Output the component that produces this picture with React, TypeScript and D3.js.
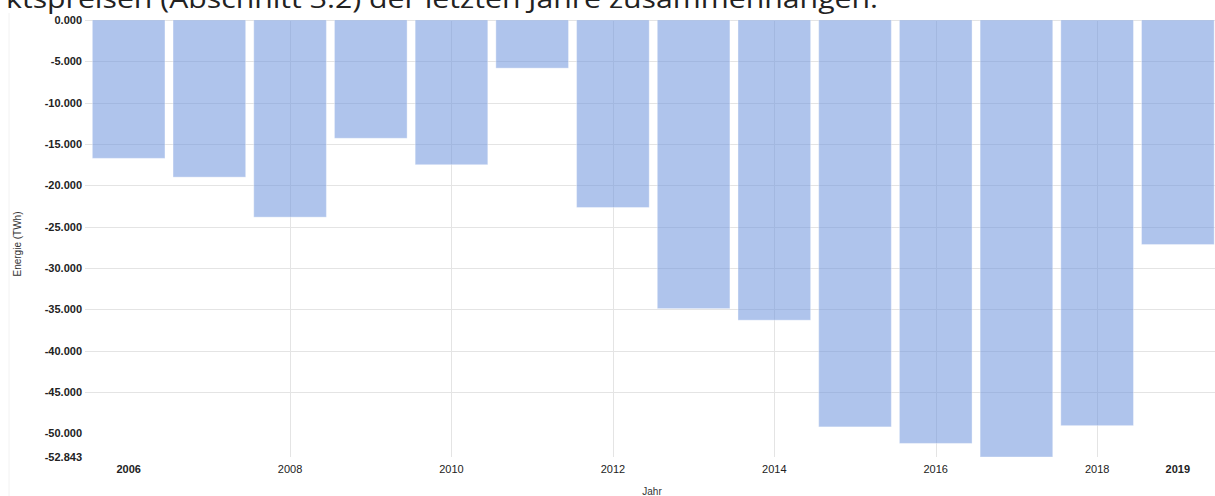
import React from "react";
import * as d3 from "d3";

const years = ["2006","2007","2008","2009","2010","2011","2012","2013","2014","2015","2016","2017","2018","2019"];
const values = [-16730,-19000,-23840,-14300,-17500,-5820,-22670,-34900,-36300,-49200,-51200,-52843,-49050,-27150];
const yTicks = [0,-5000,-10000,-15000,-20000,-25000,-30000,-35000,-40000,-45000,-50000,-52843];
const gridTicks = [0,-5000,-10000,-15000,-20000,-25000,-30000,-35000,-40000,-45000];
const xLabels = ["2006","2008","2010","2012","2014","2016","2018","2019"];
const boldLabels = ["2006","2019"];
const vGridYears = ["2008","2010","2012","2014","2016","2018"];
const headline = "ktspreisen (Abschnitt 3.2) der letzten Jahre zusammenhängen.";

const W = 1215, H = 496;

const de = d3.formatLocale({ decimal: ",", thousands: ".", grouping: [3], currency: ["", "€"], minus: "-" });
const fmt = de.format(",.3~f");
const fmtTick = (v: number) => {
  const s = de.format(",d")(v);
  return v === 0 ? "0.000" : s;
};

export default function App() {
  const x = d3.scaleBand<string>().domain(years).range([88.3, 1218.2]).paddingInner(0.1).paddingOuter(0.05);
  const y = d3.scaleLinear().domain([-52843, 0]).range([457, 20]);
  const font = "'Liberation Sans', Arial, sans-serif";
  void fmt;
  return (
    <svg width={W} height={H} style={{ position: "absolute", left: 0, top: 0, background: "#fff" }}>
      <rect x={0} y={0} width={W} height={H} fill="#fff" />
      <text x={6} y={7.5} fontFamily="'Open Sans', 'Noto Sans', sans-serif" fontSize={26} fill="#222" textLength={872} lengthAdjust="spacingAndGlyphs">{headline}</text>
      <line x1={9} x2={9} y1={13} y2={H} stroke="#f2f2f2" />
      {gridTicks.map(t => (
        <line key={"h" + t} x1={85} x2={W} y1={Math.round(y(t)) + 0.5} y2={Math.round(y(t)) + 0.5} stroke="#e4e4e4" strokeWidth={1} />
      ))}
      {vGridYears.map(yr => {
        const cx = Math.round((x(yr) as number) + x.bandwidth() / 2) + 0.5;
        return <line key={"v" + yr} x1={cx} x2={cx} y1={20} y2={457} stroke="#e4e4e4" strokeWidth={1} />;
      })}
      {years.map((yr, i) => (
        <rect key={yr} x={x(yr)} y={y(0)} width={x.bandwidth()} height={y(values[i]) - y(0)}
          fill="#6d93dc" fillOpacity={0.55} stroke="#ffffff" strokeOpacity={0.35} strokeWidth={1} />
      ))}
      {yTicks.map(t => (
        <text key={"yt" + t} x={82} y={y(t)} dy="0.35em" textAnchor="end" fontFamily={font} fontSize={11} fontWeight="bold" fill="#222">{fmtTick(t)}</text>
      ))}
      {xLabels.map(l => (
        <text key={"xl" + l} x={(x(l) as number) + x.bandwidth() / 2} y={469} dy="0.35em" textAnchor="middle" fontFamily={font} fontSize={11}
          fontWeight={boldLabels.includes(l) ? "bold" : "normal"} fill="#222">{l}</text>
      ))}
      <text x={652} y={491} dy="0.35em" textAnchor="middle" fontFamily={font} fontSize={10} fill="#333">Jahr</text>
      <text transform="translate(17,244) rotate(-90)" dy="0.35em" textAnchor="middle" fontFamily={font} fontSize={10} fill="#333">Energie (TWh)</text>
    </svg>
  );
}
